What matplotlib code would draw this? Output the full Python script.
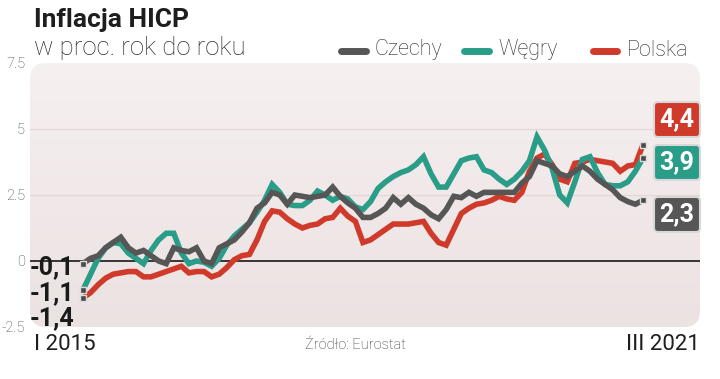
import matplotlib
matplotlib.use('Agg')
import matplotlib.pyplot as plt
import numpy as np
from matplotlib.patches import FancyBboxPatch
from matplotlib.transforms import IdentityTransform
from matplotlib.lines import Line2D

# ---- data: monthly HICP y/y, I 2015 .. III 2021 ----
months = list(range(75))
czechy = [-0.1, 0.1, 0.2, 0.5, 0.7, 0.9, 0.5, 0.3, 0.4, 0.2, 0.0, -0.1,
          0.5, 0.4, 0.35, 0.5, 0.0, -0.1, 0.5, 0.65, 0.8, 1.1, 1.45, 2.0,
          2.2, 2.6, 2.5, 2.15, 2.5, 2.45, 2.4, 2.45, 2.5, 2.8, 2.45, 2.2,
          2.0, 1.65, 1.65, 1.8, 2.0, 2.4, 2.15, 2.4, 2.15, 2.0, 1.75, 1.6,
          1.95, 2.45, 2.4, 2.6, 2.45, 2.6, 2.6, 2.6, 2.6, 2.6, 2.95, 3.2,
          3.8, 3.7, 3.6, 3.3, 3.2, 3.4, 3.6, 3.4, 3.1, 2.9, 2.7, 2.4,
          2.25, 2.15, 2.3]
wegry = [-1.1, -0.5, 0.1, 0.5, 0.7, 0.65, 0.3, 0.1, -0.1, 0.4, 0.8, 1.05,
         1.05, 0.3, -0.1, 0.0, -0.05, -0.2, 0.1, 0.6, 0.95, 1.2, 1.45, 1.85,
         2.3, 2.9, 2.6, 2.15, 2.1, 2.1, 2.3, 2.65, 2.5, 2.3, 2.45, 2.35,
         2.05, 1.95, 2.25, 2.75, 3.0, 3.2, 3.35, 3.45, 3.65, 3.95, 3.3, 2.8,
         2.8, 3.3, 3.8, 3.9, 3.95, 3.45, 3.35, 3.1, 2.9, 3.1, 3.4, 3.8,
         4.7, 4.2, 3.5, 2.5, 2.2, 3.0, 3.85, 3.95, 3.35, 2.9, 2.85, 2.85,
         3.0, 3.4, 3.9]
polska = [-1.4, -1.2, -0.9, -0.65, -0.5, -0.45, -0.4, -0.4, -0.6, -0.6, -0.5, -0.4,
          -0.3, -0.2, -0.45, -0.4, -0.4, -0.6, -0.5, -0.25, 0.05, 0.2, 0.25, 0.8,
          1.5, 1.9, 1.85, 1.6, 1.4, 1.25, 1.35, 1.4, 1.6, 1.65, 2.0, 1.7,
          1.5, 0.7, 0.8, 1.0, 1.2, 1.4, 1.4, 1.4, 1.45, 1.5, 1.05, 0.7,
          0.6, 1.2, 1.8, 2.0, 2.15, 2.2, 2.3, 2.45, 2.35, 2.3, 2.6, 3.4,
          3.9, 4.05, 3.65, 3.1, 3.0, 3.7, 3.75, 3.85, 3.8, 3.75, 3.7, 3.4,
          3.6, 3.65, 4.4]
series_names = ['Czechy', 'Węgry', 'Polska']
start_labels = ['-0,1', '-1,1', '-1,4']
end_labels = ['2,3', '3,9', '4,4']
yticks = [-2.5, 0, 2.5, 5, 7.5]
ytick_labels = ['-2.5', '0', '2.5', '5', '7.5']
x_labels = ['I 2015', 'III 2021']
title = 'Inflacja HICP'
subtitle = 'w proc. rok do roku'
source = 'Źródło: Eurostat'

colors = {'Czechy': '#565656', 'Węgry': '#2a9d88', 'Polska': '#d03a2b'}
values = {'Czechy': czechy, 'Węgry': wegry, 'Polska': polska}

W, H = 720, 379
fig = plt.figure(figsize=(W / 100, H / 100), dpi=100)
fig.patch.set_facecolor('white')

def fx(px):
    return px / W

def fy(py):
    return 1 - py / H

L, R, T, B = 30, 700, 63, 327
ax = fig.add_axes([fx(L), fy(B), fx(R) - fx(L), fy(T) - fy(B)])
ax.set_facecolor('none')
for s in ax.spines.values():
    s.set_visible(False)

xl = (-7.0, 81.54)
yl = (-2.5, 7.5)

# rounded gradient background
bg = FancyBboxPatch((L, H - B), R - L, B - T, boxstyle='round,pad=0,rounding_size=16',
                    transform=IdentityTransform(), facecolor='none', edgecolor='none')
fig.add_artist(bg)
grad = np.linspace(0, 1, 256).reshape(-1, 1)
top_c = np.array([0xf7, 0xf0, 0xf0]) / 255
bot_c = np.array([0xeb, 0xe2, 0xe2]) / 255
img = top_c[None, None, :] * (1 - grad[:, :, None]) + bot_c[None, None, :] * grad[:, :, None]
im = ax.imshow(img, extent=[xl[0], xl[1], yl[0], yl[1]], aspect='auto', zorder=0,
               origin='upper')
im.set_clip_path(bg)

for g in [2.5, 5]:
    ax.axhline(g, color='#e4d9d9', lw=1.0, zorder=1)
ax.axhline(0, color='#3a3535', lw=1.4, zorder=2)

order = ['Polska', 'Węgry', 'Czechy']
for name in order:
    ax.plot(months, values[name], color=colors[name], lw=4.0, zorder=3,
            solid_joinstyle='miter', solid_capstyle='butt')

# start/end markers
for name in series_names:
    v = values[name]
    ax.plot([months[0], months[-1]], [v[0], v[-1]], linestyle='none', marker='s',
            ms=5, mfc='#4a4a4a', mec='#dcdcdc', mew=1.0, zorder=5)

ax.set_xlim(*xl)
ax.set_ylim(*yl)
ax.set_yticks(yticks)
ax.set_yticklabels(ytick_labels)
ax.set_xticks([])
ax.tick_params(axis='y', length=0, pad=3.5, labelsize=10.5, labelcolor='#444444')
for t in ax.get_yticklabels():
    t.set_fontfamily('Roboto')
    t.set_fontweight('light')

# titles
fig.text(fx(34), fy(20), title, fontsize=19, fontweight='bold', family='Roboto',
         color='#1e1e1e', va='center', ha='left')
fig.text(fx(34), fy(48), subtitle, fontsize=18.5, fontweight='light', family='Roboto',
         color='#2a2a2a', va='center', ha='left')

# legend
leg_line_x = [(341, 366), (464, 489), (593, 617)]
leg_text_x = [375, 498, 627]
for name, (x0, x1), tx in zip(series_names, leg_line_x, leg_text_x):
    fig.add_artist(Line2D([fx(x0), fx(x1)], [fy(51), fy(51)], color=colors[name], lw=5,
                          solid_capstyle='round', transform=fig.transFigure))
    fig.text(fx(tx), fy(50), name, fontsize=15.5, fontweight='light', family='Roboto',
             color='#2a2a2a', va='center', ha='left')

# start labels
start_y = [267, 293, 318]
for lab, py in zip(start_labels, start_y):
    fig.text(fx(74), fy(py), lab, fontsize=18, fontweight='bold', family='Roboto',
             color='#1a1a1a', va='center', ha='right')

# end boxes
box_y = [(197, 232), (145, 180), (102, 137)]
for name, lab, (y0, y1) in zip(series_names, end_labels, box_y):
    p = FancyBboxPatch((654, H - y1), 46, y1 - y0, boxstyle='round,pad=0,rounding_size=4',
                       transform=IdentityTransform(), facecolor=colors[name],
                       edgecolor='#d8d8d8', lw=1.5)
    fig.add_artist(p)
    fig.text(fx(677), fy((y0 + y1) / 2), lab, fontsize=18, fontweight='bold', family='Roboto',
             color='white', va='center', ha='center')

# x labels & source
fig.text(fx(34), fy(345), x_labels[0], fontsize=16, family='Roboto', color='#1e1e1e',
         va='center', ha='left')
fig.text(fx(700), fy(345), x_labels[1], fontsize=16, family='Roboto', color='#1e1e1e',
         va='center', ha='right')
fig.text(fx(305), fy(345), source, fontsize=10.5, fontweight='light', family='Roboto',
         color='#333333', va='center', ha='left')

fig.savefig('out.png', dpi=100)
